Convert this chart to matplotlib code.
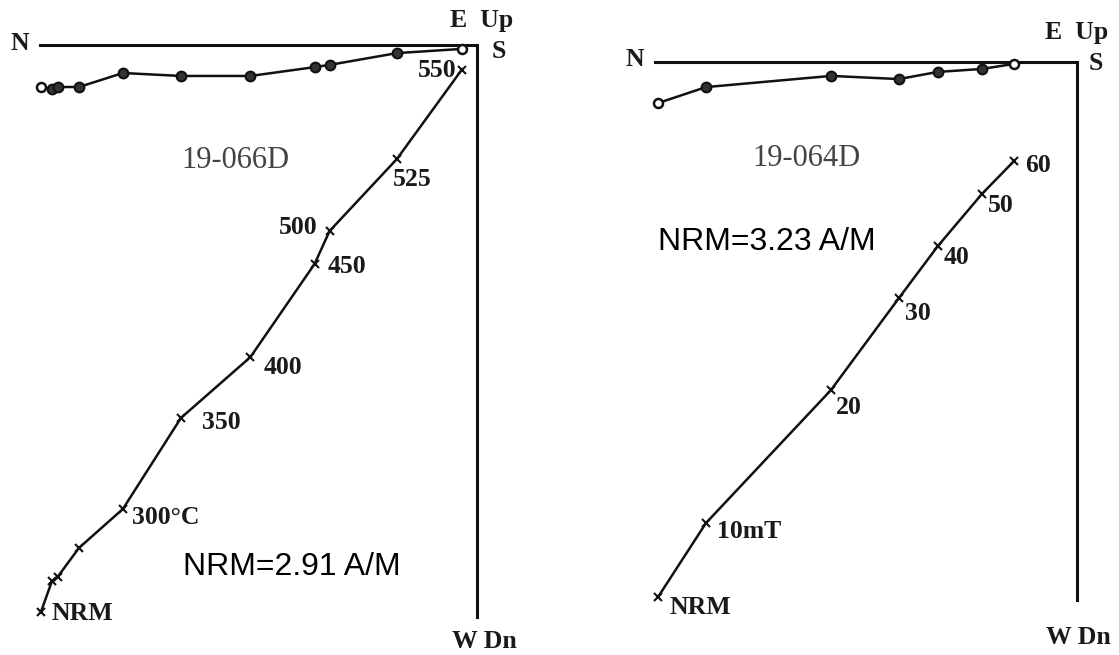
import matplotlib
matplotlib.use("Agg")
import matplotlib.pyplot as plt

W, H, DPI = 1119, 655, 100

# Sample 19-066D: thermal demagnetization, components in A/m
steps_066 = ["NRM", "", "", "", "300°C", "350", "400", "450", "500", "525", "550"]
north_066 = [1.775, 1.730, 1.707, 1.620, 1.441, 1.205, 0.922, 0.661, 0.600, 0.326, 0.063]
east_066 = [-0.171, -0.179, -0.171, -0.171, -0.114, -0.126, -0.126, -0.090, -0.081, -0.033, -0.016]
down_066 = [2.308, 2.182, 2.165, 2.047, 1.888, 1.518, 1.270, 0.891, 0.757, 0.464, 0.102]

# Sample 19-064D: alternating-field demagnetization, components in A/m
steps_064 = ["NRM", "10mT", "20", "30", "40", "50", "60"]
north_064 = [1.988, 1.760, 1.167, 0.845, 0.660, 0.451, 0.299]
east_064 = [-0.195, -0.119, -0.066, -0.081, -0.047, -0.033, -0.009]
down_064 = [2.539, 2.187, 1.556, 1.120, 0.873, 0.626, 0.470]

SERIF = "Liberation Serif"
SANS = "Liberation Sans"

fig = plt.figure(figsize=(W / DPI, H / DPI), dpi=DPI)
fig.patch.set_facecolor("white")


def px_text(x, y, s, **kw):
    fig.text(x / W, 1 - y / H, s, **kw)


def make_panel(rect, origin, scale, n_len, d_len):
    """rect = (left, top, width, height) in pixels; origin = pixel of the axis corner;
    scale = pixels per A/m; n_len/d_len = pixel lengths of the N and Dn axis lines."""
    l, t, w, h = rect
    ax = fig.add_axes([l / W, 1 - (t + h) / H, w / W, h / H])
    ox, oy = origin
    ax.set_xlim((l - ox) / scale, (l + w - ox) / scale)
    ax.set_ylim((oy - (t + h)) / scale, (oy - t) / scale)
    ax.axis("off")
    ax.plot([-n_len / scale, 0, 0], [0, 0, -d_len / scale], color="#111111",
            lw=2.2, solid_joinstyle="miter", zorder=1)
    return ax


def draw_sample(ax, north, east, down, steps, offsets):
    x = [-v for v in north]
    # horizontal projection (N-S vs E-W)
    ax.plot(x, east, color="#111111", lw=1.8, zorder=2)
    ax.plot(x[1:-1], east[1:-1], ls="none", marker="o", ms=7, mfc="#333333",
            mec="#111111", mew=1.5, zorder=3)
    ax.plot([x[0], x[-1]], [east[0], east[-1]], ls="none", marker="o", ms=6.5,
            mfc="white", mec="#111111", mew=1.8, zorder=3)
    # vertical projection (N-S vs Up-Dn)
    yv = [-v for v in down]
    ax.plot(x, yv, color="#111111", lw=1.8, zorder=2)
    ax.plot(x, yv, ls="none", marker="x", ms=5.5, mec="#111111", mew=1.5, zorder=3)
    for xi, yi, s, (dx, dy, ha) in zip(x, yv, steps, offsets):
        if s:
            ax.annotate(s, (xi, yi), xytext=(dx, -dy), textcoords="offset pixels",
                        ha=ha, va="center", fontsize=18.5, fontweight="bold",
                        family=SERIF, color="#1a1a1a")


# Left panel: 19-066D
axL = make_panel((0, 0, 560, 655), (477, 45), 245.7, 437, 572)
offs_066 = [(11, 1, "left"), None, None, None, (9, 9, "left"), (21, 5, "left"),
            (13, 10, "left"), (13, 3, "left"), (-12, -3, "right"), (-4, 20, "left"),
            (-5, 0, "right")]
offs_066 = [o if o else (0, 0, "left") for o in offs_066]
draw_sample(axL, north_066, east_066, down_066, steps_066, offs_066)

# Right panel: 19-064D
axR = make_panel((560, 0, 559, 655), (1077, 62), 210.8, 422, 538)
offs_064 = [(12, 10, "left"), (11, 8, "left"), (5, 17, "left"), (6, 15, "left"),
            (6, 11, "left"), (6, 12, "left"), (11, 4, "left")]
draw_sample(axR, north_064, east_064, down_064, steps_064, offs_064)

# Direction labels
lab = dict(fontsize=18.5, fontweight="bold", family=SERIF, color="#1a1a1a", va="center")
px_text(20, 44, "N", ha="center", **lab)
px_text(482, 21, "E  Up", ha="center", **lab)
px_text(499, 52, "S", ha="center", **lab)
px_text(484, 641, "W Dn", ha="center", **lab)

px_text(635, 59, "N", ha="center", **lab)
px_text(1077, 33, "E  Up", ha="center", **lab)
px_text(1096, 63, "S", ha="center", **lab)
px_text(1046, 638, "W Dn", ha="left", **lab)

# Sample names
px_text(181, 160, "19-066D", ha="left", va="center", fontsize=22, family=SERIF,
        color="#444444")
px_text(752, 159, "19-064D", ha="left", va="center", fontsize=22, family=SERIF,
        color="#444444")

# NRM intensities
px_text(183, 567, "NRM=2.91 A/M", ha="left", va="center", fontsize=23, family=SANS,
        color="black")
px_text(658, 242, "NRM=3.23 A/M", ha="left", va="center", fontsize=23, family=SANS,
        color="black")

fig.savefig("out.png", dpi=DPI, facecolor="white")
